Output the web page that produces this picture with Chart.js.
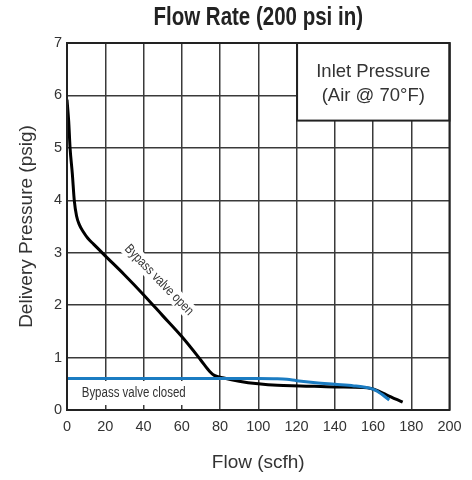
<!DOCTYPE html>
<html><head><meta charset="utf-8">
<script src="https://cdn.jsdelivr.net/npm/chart.js@4/dist/chart.umd.min.js"></script>
<style>html,body{margin:0;padding:0;background:#fff}#wrap{width:472px;height:480px}</style>
</head><body><div id="wrap"><canvas id="c" width="472" height="480"></canvas></div>
<script>
const REG = "'Liberation Sans', Arial, sans-serif";
const SQUEEZE = 0.82;

const titleText = 'Flow Rate (200 psi in)';
const xTitle = 'Flow (scfh)';
const yTitle = 'Delivery Pressure (psig)';
const xTicks = [0, 20, 40, 60, 80, 100, 120, 140, 160, 180, 200];
const yTicks = [0, 1, 2, 3, 4, 5, 6, 7];

const openFlow =     [0, 0.9, 1.6, 2.8, 3.8, 5, 6.5, 8.5, 11, 14, 20, 30, 40, 50, 60, 70, 74.5, 77, 82, 90, 100, 110, 122, 140, 155, 159, 163, 167, 175.5];
const openPressure = [5.92, 5.5, 5.0, 4.5, 4.0, 3.7, 3.53, 3.4, 3.27, 3.16, 2.94, 2.58, 2.2, 1.8, 1.4, 0.95, 0.74, 0.66, 0.61, 0.55, 0.5, 0.47, 0.46, 0.44, 0.43, 0.41, 0.36, 0.29, 0.15];

const closedFlow =     [0, 100, 110, 115, 120, 130, 140, 150, 155, 160, 163, 165, 168.5];
const closedPressure = [0.6, 0.6, 0.595, 0.585, 0.56, 0.52, 0.49, 0.46, 0.44, 0.4, 0.34, 0.29, 0.19];

const boxLines = ['Inlet Pressure', '(Air @ 70°F)'];
const openLabel = 'Bypass valve open';
const closedLabel = 'Bypass valve closed';

const pts = (xs, ys) => xs.map((v, i) => ({x: v, y: ys[i]}));

function narrowText(ctx, text, x, y, font, align, baseline) {
  ctx.save();
  ctx.translate(x, y);
  ctx.scale(SQUEEZE, 1);
  ctx.font = font;
  ctx.textAlign = align;
  ctx.textBaseline = baseline;
  ctx.fillText(text, 0, 0);
  ctx.restore();
}

const deco = {
  id: 'deco',
  beforeDatasetsDraw(chart) {
    const {ctx, chartArea: a, scales: {x, y}} = chart;
    ctx.save();
    // title
    ctx.fillStyle = '#222';
    narrowText(ctx, titleText, (a.left + a.right) / 2, 25, 'bold 25px ' + REG, 'center', 'alphabetic');
    // closed label background + text
    ctx.fillStyle = '#fff';
    const l = x.getPixelForValue(0.5), r = x.getPixelForValue(79);
    const t = y.getPixelForValue(0.553), b = y.getPixelForValue(0.095);
    ctx.fillRect(l, t, r - l, b - t);
    ctx.fillStyle = '#333';
    narrowText(ctx, closedLabel, x.getPixelForValue(7.7), y.getPixelForValue(0.242), '14px ' + REG, 'left', 'alphabetic');
    // open label rotated
    const cx = x.getPixelForValue(48.1), cy = y.getPixelForValue(2.48);
    ctx.translate(cx, cy);
    ctx.rotate(46 * Math.PI / 180);
    ctx.font = '13.5px ' + REG;
    const w = ctx.measureText(openLabel).width * SQUEEZE;
    ctx.fillStyle = '#fff';
    ctx.fillRect(-w / 2 - 3, -8, w + 6, 16);
    ctx.fillStyle = '#333';
    narrowText(ctx, openLabel, 0, 0, '13.5px ' + REG, 'center', 'middle');
    ctx.restore();
  },
  afterDatasetsDraw(chart) {
    const {ctx, chartArea: a, scales: {x, y}} = chart;
    ctx.save();
    // inlet box
    const bl = x.getPixelForValue(120.3), br = x.getPixelForValue(200);
    const bt = y.getPixelForValue(7), bb = y.getPixelForValue(5.52);
    ctx.fillStyle = '#fff';
    ctx.fillRect(bl, bt, br - bl, bb - bt);
    ctx.strokeStyle = '#222';
    ctx.lineWidth = 2;
    ctx.strokeRect(bl, bt, br - bl, bb - bt);
    ctx.fillStyle = '#333';
    ctx.font = '18.5px ' + REG;
    ctx.textAlign = 'center';
    ctx.textBaseline = 'alphabetic';
    const mx = (bl + br) / 2;
    ctx.fillText(boxLines[0], mx, y.getPixelForValue(6.357));
    ctx.fillText(boxLines[1], mx, y.getPixelForValue(5.903));
    // frame
    ctx.strokeRect(a.left, a.top, a.right - a.left, a.bottom - a.top);
    ctx.restore();
  }
};

new Chart(document.getElementById('c'), {
  type: 'line',
  data: {
    datasets: [
      {
        label: 'Bypass valve open',
        data: pts(openFlow, openPressure),
        borderColor: '#000',
        borderWidth: 3,
        pointRadius: 0,
        fill: false,
        order: 2,
        cubicInterpolationMode: 'monotone'
      },
      {
        label: 'Bypass valve closed',
        data: pts(closedFlow, closedPressure),
        borderColor: '#1b7cc2',
        borderWidth: 3,
        pointRadius: 0,
        fill: false,
        order: 1,
        cubicInterpolationMode: 'monotone'
      }
    ]
  },
  options: {
    responsive: false,
    animation: false,
    devicePixelRatio: 1,
    layout: {padding: {left: 0, right: 22.5, top: 43, bottom: 0}},
    plugins: {
      legend: {display: false},
      tooltip: {enabled: false},
      title: {display: false}
    },
    scales: {
      x: {
        type: 'linear',
        min: 0, max: 200,
        afterBuildTicks: s => { s.ticks = xTicks.map(v => ({value: v})); },
        afterFit: s => { s.height = 70; },
        ticks: {color: '#333', font: {family: REG, size: 14.5}, padding: 8, maxRotation: 0},
        grid: {color: '#3a3a3a', lineWidth: 1.5, drawTicks: false},
        border: {display: false},
        title: {display: true, text: xTitle, color: '#333', font: {family: REG, size: 19, lineHeight: 1.2}, padding: {top: 0, bottom: 6}}
      },
      y: {
        type: 'linear',
        min: 0, max: 7,
        afterBuildTicks: s => { s.ticks = yTicks.map(v => ({value: v})); },
        afterFit: s => { s.width = 67; },
        ticks: {color: '#333', font: {family: REG, size: 14.5}, padding: 5},
        grid: {color: '#3a3a3a', lineWidth: 1.5, drawTicks: false},
        border: {display: false},
        title: {display: true, text: yTitle, color: '#333', font: {family: REG, size: 19, lineHeight: 1.2}, padding: {top: 15.6, bottom: 0}}
      }
    }
  },
  plugins: [deco]
});
</script>
</body></html>
